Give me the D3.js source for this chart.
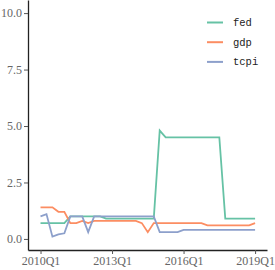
<!DOCTYPE html>
<html>
<head>
<meta charset="utf-8">
<script src="https://cdn.jsdelivr.net/npm/d3@7"></script>
<style>
  body { margin: 0; background: #fff; }
  svg text { font-family: "Liberation Serif", serif; }
</style>
</head>
<body>
<div id="chart"></div>
<script>
// quarterly, 2010Q1 .. 2019Q1
let quarters = d3.range(37).map(i => (2010 + Math.floor(i / 4)) + "Q" + (i % 4 + 1))
let fed = [0.7, 0.7, 0.7, 0.7, 0.7, 1.0, 1.0, 1.0, 1.0, 1.0, 1.0, 0.9, 0.9, 0.9, 0.9, 0.9, 0.9, 0.9, 0.9, 0.9,
           4.8, 4.5, 4.5, 4.5, 4.5, 4.5, 4.5, 4.5, 4.5, 4.5, 4.5, 0.9, 0.9, 0.9, 0.9, 0.9, 0.9]
let gdp = [1.4, 1.4, 1.4, 1.2, 1.2, 0.7, 0.7, 0.8, 0.7, 0.8, 0.8, 0.8, 0.8, 0.8, 0.8, 0.8, 0.8, 0.7, 0.3, 0.7,
           0.7, 0.7, 0.7, 0.7, 0.7, 0.7, 0.7, 0.7, 0.6, 0.6, 0.6, 0.6, 0.6, 0.6, 0.6, 0.6, 0.7]
let tcpi = [1.0, 1.1, 0.1, 0.2, 0.25, 1.0, 1.0, 1.0, 0.3, 1.0, 1.0, 1.0, 1.0, 1.0, 1.0, 1.0, 1.0, 1.0, 1.0, 1.0,
            0.3, 0.3, 0.3, 0.3, 0.4, 0.4, 0.4, 0.4, 0.4, 0.4, 0.4, 0.4, 0.4, 0.4, 0.4, 0.4, 0.4]
let seriesNames = ["fed", "gdp", "tcpi"]
let yTicks = [0, 2.5, 5, 7.5, 10]
let xTickLabels = ["2010Q1", "2013Q1", "2016Q1", "2019Q1"]

let colors = ["#66c2a5", "#fc8d62", "#8da0cb"]
let series = [fed, gdp, tcpi]

let svg = d3.select("#chart").append("svg")
    .attr("width", 275)
    .attr("height", 270)

let xScale = d3.scaleLinear()
    .domain([-2.1, 38])
    .range([28, 267])
let yScale = d3.scaleLinear()
    .domain([-0.49, 10.58])
    .range([250, 0])

// left axis
let yAxis = svg.append("g")
    .attr("transform", "translate(28,0)")
    .call(d3.axisLeft(yScale).tickValues(yTicks).tickFormat(d3.format(".1f")).tickSize(4).tickSizeOuter(0))
yAxis.select(".domain").attr("stroke", "#222").attr("stroke-width", 1.3)
yAxis.selectAll(".tick line").attr("stroke", "#555")
yAxis.selectAll(".tick text")
    .attr("fill", "#666")
    .attr("x", -6)
    .style("font-size", "12px")
    .style("font-family", "Liberation Serif, serif")

// bottom axis
let xIdx = xTickLabels.map(l => quarters.indexOf(l))
let xAxis = svg.append("g")
    .attr("transform", "translate(0,250)")
    .call(d3.axisBottom(xScale).tickValues(xIdx).tickFormat(i => quarters[i]).tickSize(4).tickSizeOuter(0))
xAxis.select(".domain").attr("stroke", "#222").attr("stroke-width", 1.3)
xAxis.selectAll(".tick line").attr("stroke", "#555")
xAxis.selectAll(".tick text")
    .attr("fill", "#666")
    .attr("y", 6)
    .style("font-size", "12px")
    .style("font-family", "Liberation Serif, serif")

let line = d3.line()
    .x((d, i) => xScale(i))
    .y(d => yScale(d))

svg.selectAll(".series")
    .data(series)
    .enter()
    .append("path")
    .classed("series", true)
    .attr("d", d => line(d))
    .attr("fill", "none")
    .attr("stroke", (d, i) => colors[i])
    .attr("stroke-width", 1.8)
    .attr("stroke-linejoin", "miter")

// legend
let legend = svg.append("g")
let rows = legend.selectAll("g")
    .data(seriesNames)
    .enter()
    .append("g")
    .attr("transform", (d, i) => "translate(207," + (22.5 + i * 19.7) + ")")
rows.append("line")
    .attr("x1", 0)
    .attr("x2", 16)
    .attr("stroke", (d, i) => colors[i])
    .attr("stroke-width", 2)
rows.append("text")
    .attr("x", 26)
    .attr("y", 3.5)
    .style("font-family", "Liberation Mono, monospace")
    .style("font-size", "10.5px")
    .attr("fill", "#222")
    .text(d => d)
</script>
</body>
</html>
